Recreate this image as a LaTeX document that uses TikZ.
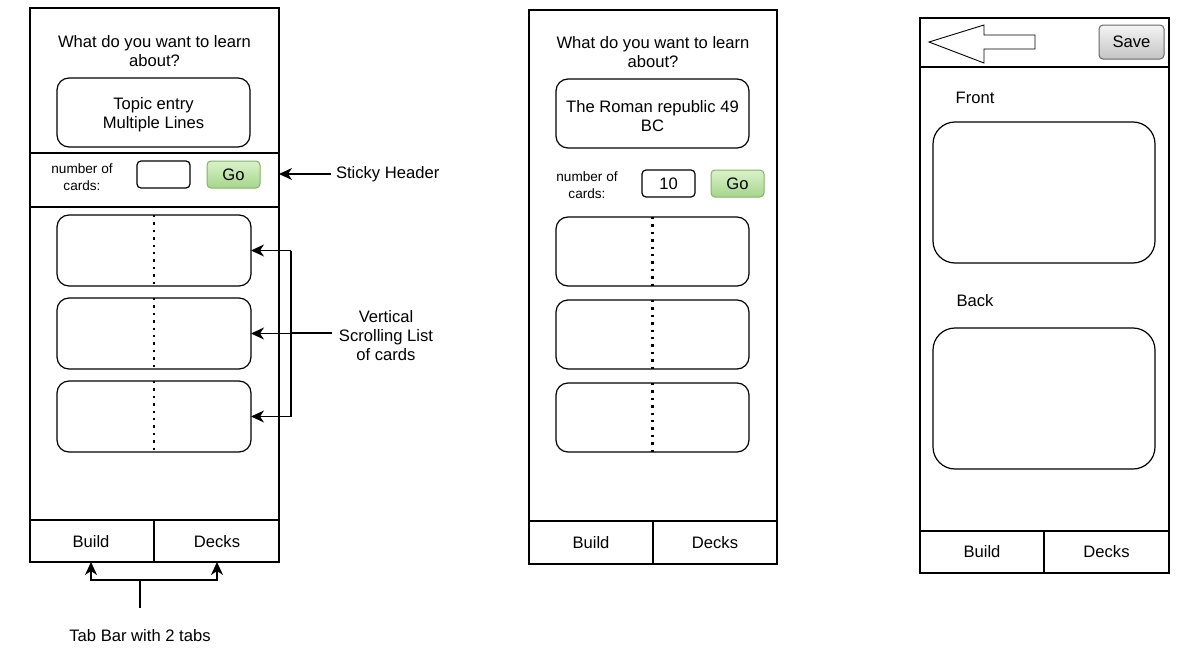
\documentclass[tikz,border=0pt]{standalone}
\usepackage{fontspec}
\setmainfont{Liberation Sans}
\usetikzlibrary{arrows.meta}
\definecolor{goTop}{HTML}{D9F2C9}
\definecolor{goBot}{HTML}{A6D68A}
\definecolor{goLine}{HTML}{82B366}
\definecolor{svTop}{HTML}{F4F4F4}
\definecolor{svBot}{HTML}{C4C4C4}
\begin{document}
\begin{tikzpicture}[x=1pt,y=-1pt,
  every node/.style={font=\fontsize{16.6}{19}\selectfont, inner sep=0pt, outer sep=0pt},
  frame/.style={draw, line width=1.2pt, anchor=north west},
  rbox/.style={draw, line width=1.2pt, rounded corners=12pt, anchor=north west},
  tabcell/.style={draw, line width=1.2pt, anchor=north west, minimum height=42pt},
  inbox/.style={draw, line width=1.2pt, rounded corners=4pt, anchor=north west, minimum width=53pt, minimum height=27pt},
  gobtn/.style={draw=goLine, line width=1pt, rounded corners=4pt, top color=goTop, bottom color=goBot, anchor=north west, minimum width=53pt, minimum height=27pt},
  small/.style={font=\fontsize{13.6}{17}\selectfont, align=center},
  lbl/.style={align=center},
  dots/.style={line width=2.6pt, dash pattern=on 2.4pt off 5pt},
  arr/.style={line width=1.2pt, -{Stealth[length=13pt,width=12pt,inset=4pt]}},
  ln/.style={line width=1.2pt}
]
\useasboundingbox (0,0) rectangle (1200,653);

% ---------------- Screen 1 ----------------
\node[frame, minimum width=249pt, minimum height=554pt] (s1) at (30,8) {};
\draw[ln] (30,153) -- (279,153);
\draw[ln] (30,207) -- (279,207);
\node[lbl] (t1) at (154.5,51.5) {What do you want to learn\\about?};
\node[rbox, minimum width=193pt, minimum height=69pt] (topic1) at (57,78) {};
\node[lbl] (topict1) at ([yshift=-2.5pt]topic1.center) {Topic entry\\Multiple Lines};
\node[small] (num1) at (82,177) {number of\\cards:};
\node[inbox] (in1) at (137,161) {};
\node[gobtn] (go1) at (207,161) {Go};
\node[rbox, minimum width=194pt, minimum height=71pt] (c1a) at (57,215) {};
\node[rbox, minimum width=194pt, minimum height=71pt] (c1b) at (57,298) {};
\node[rbox, minimum width=194pt, minimum height=71pt] (c1c) at (57,381) {};
\foreach \c in {c1a,c1b,c1c}{\draw[dots] (\c.north) -- (\c.south);}
\node[tabcell, minimum width=124pt] (tab1a) at (30,520) {};
\node[tabcell, minimum width=125pt] (tab1b) at (154,520) {};
\node (b1) at (91,542) {Build};
\node (d1) at (217,542) {Decks};

% annotations
\node[anchor=west] (sticky) at (336,174) {Sticky Header};
\draw[arr] ([xshift=-5pt]sticky.west) -- (s1.east |- sticky.west);
\node[lbl] (vlist) at (386,336) {Vertical\\Scrolling List\\of cards};
\coordinate (br) at (291,333);
\draw[ln] ([xshift=-7pt]vlist.west |- br) -- (br);
\draw[ln] (br |- c1a.east) -- (br |- c1c.east);
\draw[arr] (br |- c1a.east) -- (c1a.east);
\draw[arr] (br |- c1b.east) -- (c1b.east);
\draw[arr] (br |- c1c.east) -- (c1c.east);
\node (tabl) at (140,636) {Tab Bar with 2 tabs};
\coordinate (tbs) at (140,608);
\coordinate (tb) at (140,580);
\draw[ln] (tbs) -- (tb);
\draw[arr] (tb) -| (b1.center |- tab1a.south);
\draw[arr] (tb) -| (d1.center |- tab1b.south);

% ---------------- Screen 2 ----------------
\node[frame, minimum width=248pt, minimum height=554pt] (s2) at (529,10) {};
\node[lbl] (t2) at (653,52.5) {What do you want to learn\\about?};
\node[rbox, minimum width=193pt, minimum height=69pt] (topic2) at (556,79) {};
\node[lbl] (topict2) at ([yshift=-2.5pt]topic2.center) {The Roman republic 49\\BC};
\node[small] (num2) at (587,185) {number of\\cards:};
\node[inbox] (in2) at (642,170) {10};
\node[gobtn] (go2) at (711,170) {Go};
\node[rbox, minimum width=193pt, minimum height=69pt] (c2a) at (556,217) {};
\node[rbox, minimum width=193pt, minimum height=69pt] (c2b) at (556,300) {};
\node[rbox, minimum width=193pt, minimum height=69pt] (c2c) at (556,383) {};
\foreach \c in {c2a,c2b,c2c}{\draw[dots] (\c.north) -- (\c.south);}
\node[tabcell, minimum width=124pt, minimum height=43pt] (tab2a) at (529,521) {Build};
\node[tabcell, minimum width=124pt, minimum height=43pt] (tab2b) at (653,521) {Decks};

% ---------------- Screen 3 ----------------
\node[frame, minimum width=249pt, minimum height=555pt] (s3) at (920,18) {};
\draw[ln] (920,67) -- (1169,67);
\draw[line width=0.9pt, line join=miter] (929,42) -- (984,25) -- (984,35) -- (1035,35) -- (1035,49) -- (984,49) -- (984,63) -- cycle;
\node[draw=black!60, line width=1pt, rounded corners=4pt, top color=svTop, bottom color=svBot, anchor=north west, minimum width=65pt, minimum height=34pt] (save) at (1099,25) {Save};
\node (front) at (975,98) {Front};
\node[rbox, rounded corners=22pt, minimum width=222pt, minimum height=141pt] (fbox) at (933,122) {};
\node (back) at (975,301) {Back};
\node[rbox, rounded corners=22pt, minimum width=222pt, minimum height=141pt] (bbox) at (933,328) {};
\node[tabcell, minimum width=124pt] (tab3a) at (920,531) {Build};
\node[tabcell, minimum width=125pt] (tab3b) at (1044,531) {Decks};
\end{tikzpicture}
\end{document}
